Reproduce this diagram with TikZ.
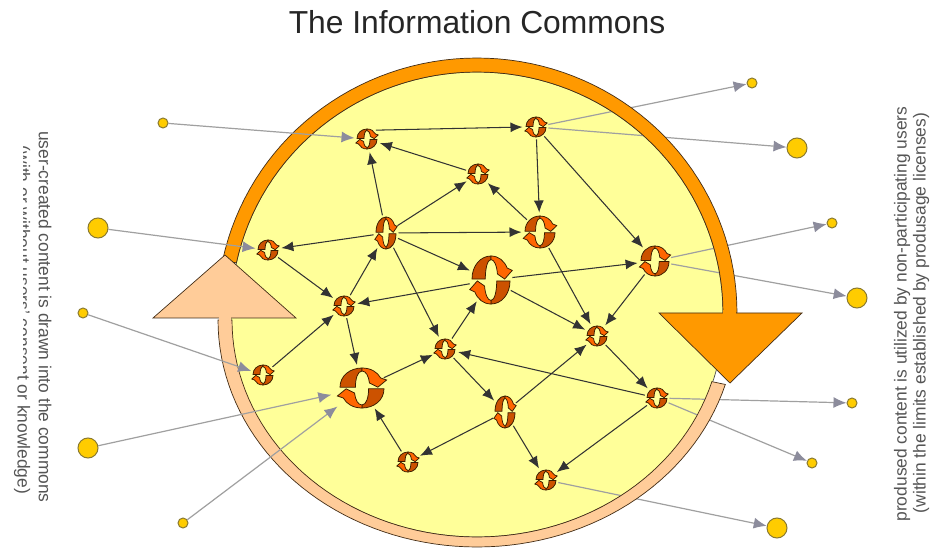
\documentclass[tikz,border=0pt]{standalone}
\usepackage{fontspec}
\setmainfont{Liberation Sans}
\usetikzlibrary{arrows.meta,shapes.geometric}
\definecolor{padyel}{HTML}{FFFF99}
\definecolor{bandor}{HTML}{FF9900}
\definecolor{bandpe}{HTML}{FFCC99}
\definecolor{icodark}{HTML}{CC5200}
\definecolor{icolite}{HTML}{FF6600}
\definecolor{icoline}{HTML}{3A1C00}
\definecolor{goldf}{HTML}{FFCC00}
\definecolor{goldl}{HTML}{8A7A30}
\definecolor{txtc}{HTML}{555555}
\definecolor{feedc}{HTML}{A0A0A0}
\definecolor{feedt}{HTML}{8C8C9C}
\tikzset{
  link/.style={draw=black!80,line width=1.05pt,-{Latex[length=12pt,width=10pt]},shorten >=1pt},
  feed/.style={draw=feedc,line width=1.2pt,-{Latex[length=13pt,width=11pt,color=feedt]}},
  hub/.style={ellipse,inner sep=0pt,outer sep=2.5pt},
  gold/.style={circle,fill=goldf,draw=goldl,line width=1pt,inner sep=0pt},
  goldS/.style={gold,minimum size=10pt},
  goldB/.style={gold,minimum size=20pt},
  band/.style={draw=black!65!brown,line width=.7pt,line join=miter},
  sidetxt/.style={font=\fontsize{17.4}{20}\selectfont,text=txtc,inner sep=0pt}
}
\newcommand{\cyc}[5]{%
  \node[hub,minimum width=#4*2pt,minimum height=#5*2pt] (#1) at (#2,#3) {};
  \begin{scope}[shift={(#2,#3)},x=#4pt,y=-#5pt,line width=.75pt,draw=icoline]
    \foreach \r in {0,180}{
      \begin{scope}[rotate=\r]
        \filldraw[fill=icodark] (-1,-.04) .. controls (-1,-.6) and (-.55,-1) .. (0,-1) -- (0,-.85) .. controls (-.2,-.85) and (-.3,-.45) .. (-.3,-.04) -- cycle;
        \filldraw[fill=icolite] (0,-1) .. controls (.4,-1) and (.7,-.8) .. (.85,-.5) -- (1.12,-.4) -- (.72,-.04) -- (.34,-.25) .. controls (.3,-.6) and (.18,-.85) .. (0,-.85) -- cycle;
      \end{scope}
    }
  \end{scope}
}
\begin{document}
\begin{tikzpicture}[x=1pt,y=-1pt]
\useasboundingbox[fill=white] (0,0) rectangle (938,548);
% title
\node[font=\fontsize{31.8}{34}\selectfont,text=black!85,inner sep=0pt] (title) at (477,22) {The Information Commons};
% pool
\fill[padyel,draw=black!70,line width=.7pt]
  plot[domain=180:0,samples=70] ({477+246*cos(\x)},{313-241*sin(\x)})
  -- plot[domain=0:-180,samples=70] ({477+246*cos(\x)},{320+217*sin(-\x)}) -- cycle;
% hubs
\cyc{a}{367}{139}{10}{10}
\cyc{b}{536}{127}{10}{10}
\cyc{c}{478}{174}{10}{10}
\cyc{d}{386}{233}{10}{16}
\cyc{e}{540}{232}{15}{16}
\cyc{f}{268}{250}{10}{10}
\cyc{g}{491}{280}{19}{24}
\cyc{h}{655}{261}{14}{15}
\cyc{i}{344}{306}{10}{10}
\cyc{j}{597}{336}{10}{10}
\cyc{k}{445}{349}{10}{10}
\cyc{l}{263}{375}{10}{10}
\cyc{m}{362}{388}{22}{20}
\cyc{n}{657}{398}{10}{10}
\cyc{o}{505}{412}{10}{16}
\cyc{p}{408}{462}{10}{10}
\cyc{q}{546}{480}{10}{10}
% gold nodes
\node[goldS] (s1) at (163,123) {};
\node[goldB] (s2) at (98,228) {};
\node[goldS] (s3) at (83,313) {};
\node[goldB] (s4) at (88,448) {};
\node[goldS] (s5) at (183,523) {};
\node[goldS] (t1) at (752,83) {};
\node[goldB] (t2) at (797,148) {};
\node[goldS] (t3) at (832,223) {};
\node[goldB] (t4) at (857,298) {};
\node[goldS] (t5) at (852,403) {};
\node[goldS] (t6) at (812,463) {};
\node[goldB] (t7) at (777,528) {};
% outgoing
\draw[feed] (b) -- (t1);
\draw[feed] (b) -- (t2);
\draw[feed] (h) -- (t3);
\draw[feed] (h) -- (t4);
\draw[feed] (n) -- (t5);
\draw[feed] (n) -- (t6);
\draw[feed] (q) -- (t7);
% bands
\filldraw[band,fill=bandor]
  plot[domain=168:0,samples=70] ({477+260*cos(\x)},{313-255*sin(\x)})
  -- plot[domain=0:168,samples=70] ({477+246*cos(\x)},{313-241*sin(\x)}) -- cycle;
\filldraw[band,fill=bandor] (659,313) -- (802,313) -- (730,383) -- cycle;
\fill[bandor] (723.3,310) rectangle (736.2,314);
\filldraw[band,fill=bandpe]
  plot[domain=180:343.5,samples=70] ({477+259*cos(\x)},{320-227*sin(\x)})
  -- plot[domain=343.5:180,samples=70] ({477+245*cos(\x)},{320-217*sin(\x)}) -- cycle;
\filldraw[band,fill=bandpe] (153,318) -- (225,255) -- (296,318) -- cycle;
\fill[bandpe] (218.8,316) rectangle (231.3,321);
% incoming
\draw[feed] (s1) -- (a);
\draw[feed] (s2) -- (f);
\draw[feed] (s3) -- (l);
\draw[feed,shorten >=7pt] (s4) -- (m);
\draw[feed,shorten >=7pt] (s5) -- (m);
% network
\draw[link] (a.45) -- (b.west);
\draw[link] (b) -- (e);
\draw[link] (b) -- (h);
\draw[link] (c) -- (a);
\draw[link] (e) -- (c);
\draw[link] (d) -- (c);
\draw[link] (d) -- (a);
\draw[link] (d) -- (e);
\draw[link] (d) -- (g);
\draw[link] (d) -- (f);
\draw[link] (d) -- (k);
\draw[link] (e) -- (j);
\draw[link] (g) -- (i);
\draw[link] (g) -- (j);
\draw[link] (g) -- (h);
\draw[link] (h) -- (j);
\draw[link] (i) -- (d);
\draw[link] (i) -- (m);
\draw[link] (f) -- (i);
\draw[link] (l) -- (i);
\draw[link] (k) -- (g);
\draw[link] (k) -- (o);
\draw[link] (m) -- (k);
\draw[link] (o) -- (j);
\draw[link] (o) -- (p);
\draw[link] (o) -- (q);
\draw[link] (n) -- (k);
\draw[link] (n) -- (q);
\draw[link] (j) -- (n);
\draw[link] (p) -- (m);
% side texts
\node[sidetxt,rotate=-90] (lt1) at (45,317) {user-created content is drawn into the commons};
\node[sidetxt,rotate=-90] (lt2) at (22,320) {(with or without users' consent or knowledge)};
\fill[white] (8,128) rectangle (22.5,375);
\node[sidetxt,rotate=90] (rt1) at (902,314) {prodused content is utilized by non-participating users};
\node[sidetxt,rotate=90] (rt2) at (921,313) {(within the limits established by produsage licenses)};
\end{tikzpicture}
\end{document}
